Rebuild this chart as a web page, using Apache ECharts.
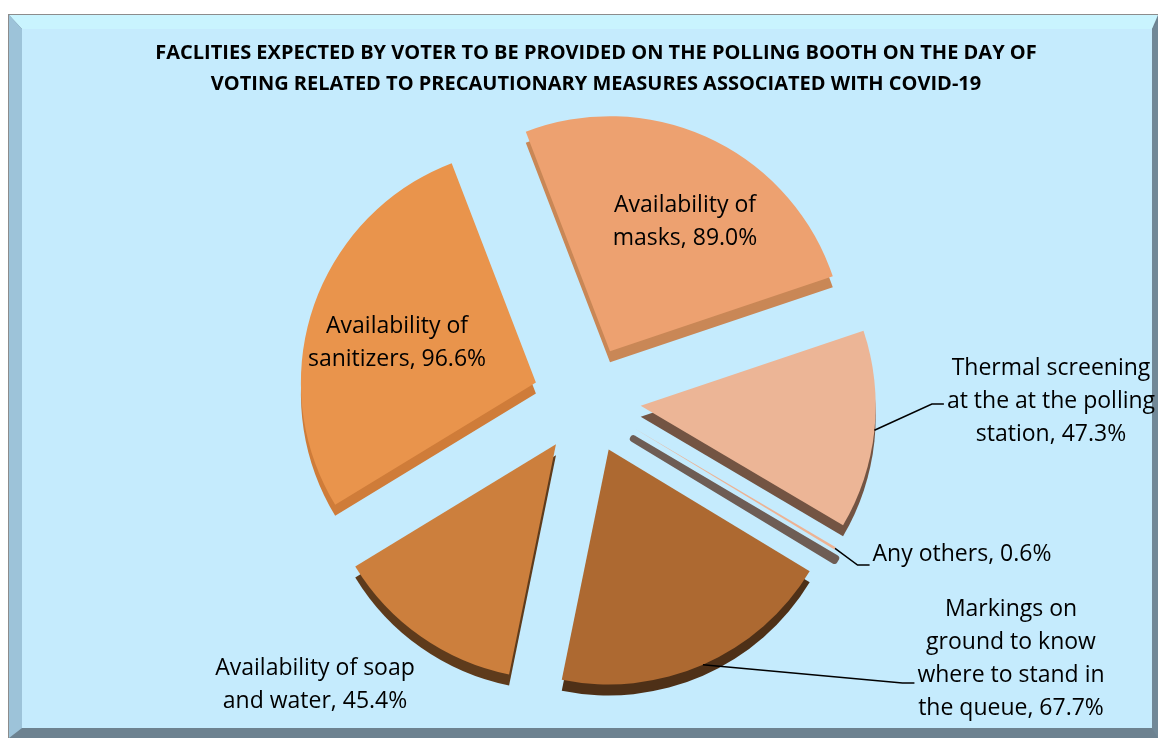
<!DOCTYPE html>
<html>
<head>
<meta charset="utf-8">
<script src="https://cdn.jsdelivr.net/npm/echarts@6/dist/echarts.min.js"></script>
<style>
  html, body { margin: 0; padding: 0; background: #ffffff; }
  #chart { width: 1158px; height: 738px; }
</style>
</head>
<body>
<div id="chart"></div>
<script>
// Share of voters expecting each COVID-19 precaution at the polling booth (%)
const categories = [
  'Availability of masks',
  'Thermal screening at the at the polling station',
  'Any others',
  'Markings on ground to know where to stand in the queue',
  'Availability of soap and water',
  'Availability of sanitizers'
];
const labelNames = [
  'Availability of\nmasks',
  'Thermal screening\nat the at the polling\nstation',
  'Any others',
  'Markings on\nground to know\nwhere to stand in\nthe queue',
  'Availability of soap\nand water',
  'Availability of\nsanitizers'
];
const values = [89.0, 47.3, 0.6, 67.7, 45.4, 96.6];

const titleLines = [
  'FACLITIES EXPECTED BY VOTER TO BE PROVIDED ON THE POLLING BOOTH ON THE DAY OF',
  'VOTING RELATED TO PRECAUTIONARY MEASURES ASSOCIATED WITH COVID-19'
];

// top faces and extruded sides of the slices
const topColors  = ['#EDA170', '#ECB596', '#EDB293', '#AD6931', '#CC7F3D', '#E9944C'];
const sideColors = ['#C98756', '#735443', '#6E5D55', '#4E3017', '#5E3B1C', '#CF7C39'];

// label block centres; leader lines meet the block dy below its centre
const labelSpots = [
  { x: 685, y: 222, line: false },
  { x: 1051, y: 401, line: true, dy: 3 },
  { x: 962, y: 554, line: true, dy: 11 },
  { x: 1011, y: 659, line: true, dy: 24 },
  { x: 315, y: 685, line: false },
  { x: 397, y: 343, line: false }
];

const FONT = '"Open Sans", "Noto Sans", "Liberation Sans", sans-serif';
const CX = 587, CY = 400, R = 235, DEPTH = 11, EXPLODE = 54, START = 111;

const chart = echarts.init(document.getElementById('chart'), null, { renderer: 'canvas' });

function sliceData(colors, selected) {
  return categories.map((name, i) => ({
    name: name,
    value: values[i],
    selected: selected,
    itemStyle: { color: colors[i] }
  }));
}

const sideData = sliceData(sideColors, true);
// the thin slice shows mostly its wall, so give it some body
sideData[2].itemStyle = { color: sideColors[2], borderColor: sideColors[2], borderWidth: 7 };

const labelData = categories.map((name, i) => ({
  name: name,
  value: values[i],
  itemStyle: { color: 'rgba(0,0,0,0)' },
  label: { position: labelSpots[i].line ? 'outside' : 'inside' },
  labelLine: { show: labelSpots[i].line }
}));

const baseSeries = {
  type: 'pie',
  radius: [0, R],
  startAngle: START,
  clockwise: true,
  emphasis: { disabled: true },
  itemStyle: { borderWidth: 0 }
};

const option = {
  backgroundColor: '#ffffff',
  animation: false,
  title: {
    text: titleLines.join('\n'),
    left: 591,
    textAlign: 'center',
    top: 33,
    textStyle: {
      fontFamily: FONT,
      fontWeight: 'bold',
      fontSize: 20,
      lineHeight: 31,
      color: '#000000'
    }
  },
  graphic: [
    { type: 'rect', z: -10, shape: { x: 8, y: 14, width: 1150, height: 724 }, style: { fill: '#8C8C8C' } },
    { type: 'rect', z: -10, shape: { x: 9, y: 15, width: 1149, height: 723 }, style: { fill: '#6D8290' } },
    { type: 'polygon', z: -10, shape: { points: [[9, 15], [1158, 15], [1152, 29], [22, 29]] }, style: { fill: '#C9F4FE' } },
    { type: 'polygon', z: -10, shape: { points: [[9, 15], [22, 29], [22, 728], [9, 738]] }, style: { fill: '#9DC3D9' } },
    { type: 'polygon', z: -10, shape: { points: [[1152, 29], [1158, 22], [1158, 738], [1152, 728]] }, style: { fill: '#718897' } },
    { type: 'rect', z: -10, shape: { x: 22, y: 29, width: 1130, height: 699 }, style: { fill: '#C5EBFD' } }
  ],
  series: [
    Object.assign({}, baseSeries, {
      // extruded side, drawn slightly lower underneath the faces
      silent: true,
      z: 1,
      center: [CX, CY + DEPTH],
      selectedMode: 'multiple',
      selectedOffset: EXPLODE,
      label: { show: false },
      labelLine: { show: false },
      data: sideData
    }),
    Object.assign({}, baseSeries, {
      z: 2,
      center: [CX, CY],
      selectedMode: 'multiple',
      selectedOffset: EXPLODE,
      label: { show: false },
      labelLine: { show: false },
      data: sliceData(topColors, true)
    }),
    Object.assign({}, baseSeries, {
      // label carrier: same slices, unexploded and transparent
      silent: true,
      z: 3,
      center: [CX, CY],
      avoidLabelOverlap: false,
      label: {
        show: true,
        fontFamily: FONT,
        fontSize: 23,
        lineHeight: 33,
        color: '#000000',
        align: 'center',
        formatter: p => labelNames[p.dataIndex] + ', ' + p.value.toFixed(1) + '%'
      },
      labelLine: {
        length: 30,
        length2: 12,
        lineStyle: { color: '#000000', width: 1.5 }
      },
      labelLayout: p => {
        const s = labelSpots[p.dataIndex];
        const out = { x: s.x, y: s.y, align: 'center', verticalAlign: 'middle', hideOverlap: false };
        if (s.line && p.labelLinePoints) {
          // start on the rim of the exploded slice
          const p0 = p.labelLinePoints[0];
          const vx = p0[0] - CX, vy = p0[1] - CY;
          const len = Math.sqrt(vx * vx + vy * vy) || 1;
          const start = [p0[0] + EXPLODE * vx / len, p0[1] + EXPLODE * vy / len];
          const end = [s.x - p.labelRect.width / 2 - 3, s.y + s.dy];
          const elbow = [end[0] - 12, end[1]];
          out.labelLinePoints = [start, elbow, end];
        }
        return out;
      },
      data: labelData
    })
  ]
};

chart.setOption(option);
</script>
</body>
</html>
